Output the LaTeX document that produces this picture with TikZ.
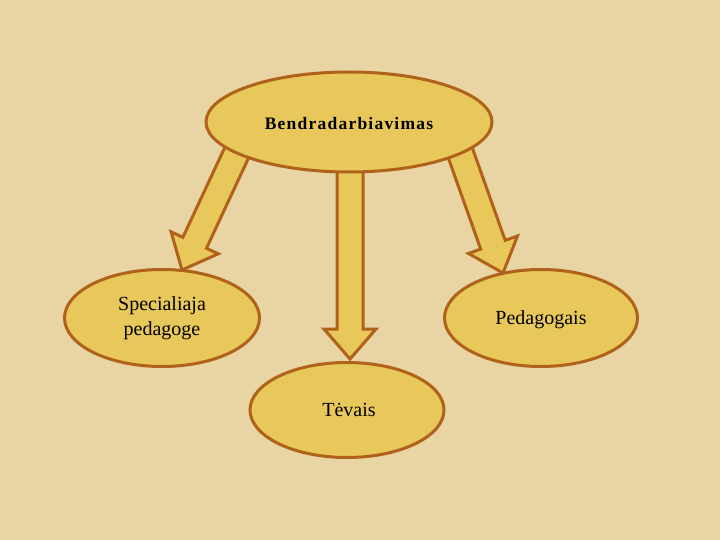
\documentclass[tikz,border=0pt]{standalone}
\usepackage{fontspec}
\setmainfont{Liberation Serif}
\usetikzlibrary{calc,shapes.geometric}
\definecolor{bgc}{HTML}{E9D4A3}
\definecolor{fillc}{HTML}{E8C85A}
\definecolor{edgec}{HTML}{B0621A}
\tikzset{
  oval/.style={ellipse, draw=edgec, fill=fillc, line width=3pt, inner sep=0pt},
  bigarr/.style={draw=edgec, fill=fillc, line width=3pt, line join=miter},
  lbl/.style={font=\fontsize{20}{25}\selectfont, align=center, text=black},
}
\newcommand{\fatarrow}[2]{%
  \draw[bigarr]
    ($(#1)!13pt!90:(#2)$) --
    ($($(#2)!30pt!(#1)$)!13pt!-90:(#1)$) --
    ($($(#2)!30pt!(#1)$)!26pt!-90:(#1)$) --
    (#2) --
    ($($(#2)!30pt!(#1)$)!26pt!90:(#1)$) --
    ($($(#2)!30pt!(#1)$)!13pt!90:(#1)$) --
    ($(#1)!13pt!-90:(#2)$) -- cycle;}
\begin{document}
\begin{tikzpicture}[x=1pt,y=-1pt]
\fill[bgc] (0,0) rectangle (720,540);
\useasboundingbox (0,0) rectangle (720,540);
% arrow anchors
\coordinate (ls) at (237,152);
\coordinate (lt) at (182,270);
\coordinate (rs) at (460,152);
\coordinate (rt) at (503,273);
\coordinate (ms) at (350,165);
\coordinate (mt) at (350,359);
\fatarrow{ls}{lt}
\fatarrow{rs}{rt}
\fatarrow{ms}{mt}
% ellipses
\node[oval, minimum width=286pt, minimum height=100pt] (top) at (349,122) {};
\node[oval, minimum width=195pt, minimum height=97pt] (left) at (162,318) {};
\node[oval, minimum width=193pt, minimum height=97pt] (right) at (541,318) {};
\node[oval, minimum width=194pt, minimum height=95pt] (bot) at (347,410) {};
% labels
\node[font=\fontsize{17.5}{20}\selectfont\bfseries, text=black] (ttop) at (349,124) {\addfontfeature{LetterSpace=7}Bendradarbiavimas};
\node[lbl] (tleft) at (162,318) {Specialiaja\\pedagoge};
\node[lbl] (tright) at (541,320) {Pedagogais};
\node[lbl] (tbot) at (349,410) {Tėvais};
\end{tikzpicture}
\end{document}
